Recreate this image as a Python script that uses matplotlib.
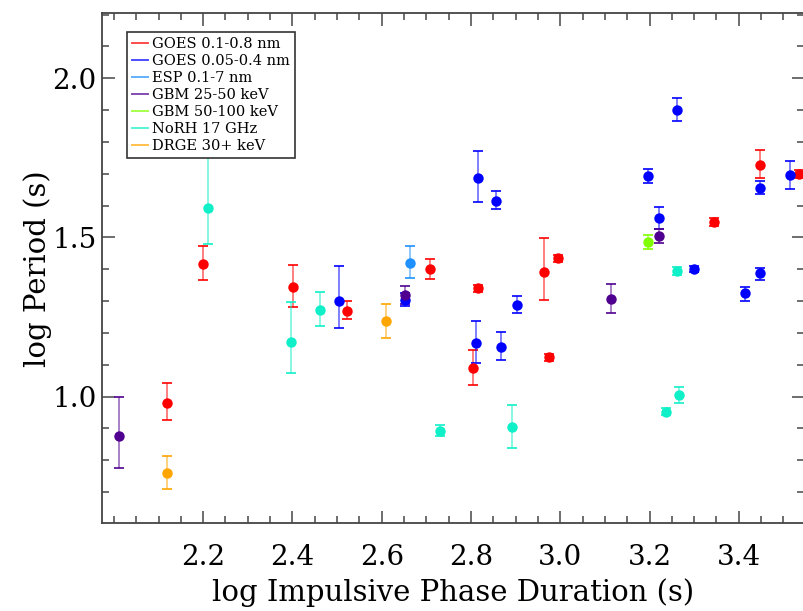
import matplotlib
matplotlib.use("Agg")
import matplotlib.pyplot as plt
from matplotlib.lines import Line2D
from matplotlib.ticker import MultipleLocator

# --- data: x, y, lower and upper error ---
goes_long_x = [2.119, 2.199, 2.402, 2.523, 2.708, 2.816, 2.805, 2.964, 2.995, 2.974, 3.344, 3.447, 3.535]
goes_long_y = [0.979, 1.416, 1.343, 1.270, 1.400, 1.340, 1.089, 1.390, 1.434, 1.123, 1.549, 1.729, 1.700]
goes_long_lo = [0.054, 0.050, 0.061, 0.025, 0.029, 0.012, 0.051, 0.087, 0.012, 0.010, 0.013, 0.042, 0.012]
goes_long_hi = [0.063, 0.057, 0.072, 0.029, 0.032, 0.012, 0.058, 0.109, 0.012, 0.010, 0.013, 0.045, 0.012]

goes_short_x = [2.504, 2.652, 2.812, 2.816, 2.856, 2.867, 2.904, 3.197, 3.221, 3.262, 3.300, 3.415, 3.447, 3.447, 3.514]
goes_short_y = [1.301, 1.305, 1.168, 1.687, 1.614, 1.156, 1.288, 1.693, 1.560, 1.900, 1.400, 1.324, 1.387, 1.656, 1.695]
goes_short_lo = [0.087, 0.020, 0.061, 0.076, 0.025, 0.041, 0.026, 0.023, 0.033, 0.035, 0.010, 0.023, 0.021, 0.021, 0.042]
goes_short_hi = [0.109, 0.020, 0.070, 0.084, 0.032, 0.046, 0.029, 0.023, 0.037, 0.038, 0.010, 0.021, 0.018, 0.021, 0.045]

esp_x = [2.663]
esp_y = [1.420]
esp_lo = [0.048]
esp_hi = [0.054]

gbm_low_x = [2.012, 2.652, 3.113, 3.221]
gbm_low_y = [0.875, 1.319, 1.306, 1.505]
gbm_low_lo = [0.098, 0.029, 0.042, 0.023]
gbm_low_hi = [0.125, 0.028, 0.047, 0.022]

gbm_high_x = [3.197]
gbm_high_y = [1.486]
gbm_high_lo = [0.021]
gbm_high_hi = [0.021]

norh_x = [2.211, 2.396, 2.462, 2.730, 2.891, 3.238, 3.262, 3.266]
norh_y = [1.593, 1.170, 1.272, 0.893, 0.904, 0.953, 1.395, 1.005]
norh_lo = [0.115, 0.096, 0.050, 0.018, 0.064, 0.012, 0.012, 0.025]
norh_hi = [0.250, 0.126, 0.058, 0.018, 0.070, 0.012, 0.012, 0.024]

drge_x = [2.119, 2.609]
drge_y = [0.761, 1.236]
drge_lo = [0.050, 0.052]
drge_hi = [0.052, 0.056]

series = [
    ("GOES 0.1-0.8 nm", "#ff0000", goes_long_x, goes_long_y, goes_long_lo, goes_long_hi),
    ("GOES 0.05-0.4 nm", "#0000ff", goes_short_x, goes_short_y, goes_short_lo, goes_short_hi),
    ("ESP 0.1-7 nm", "#1e90ff", esp_x, esp_y, esp_lo, esp_hi),
    ("GBM 25-50 keV", "#500090", gbm_low_x, gbm_low_y, gbm_low_lo, gbm_low_hi),
    ("GBM 50-100 keV", "#80ff00", gbm_high_x, gbm_high_y, gbm_high_lo, gbm_high_hi),
    ("NoRH 17 GHz", "#10f0c8", norh_x, norh_y, norh_lo, norh_hi),
    ("DRGE 30+ keV", "#ffa500", drge_x, drge_y, drge_lo, drge_hi),
]

plt.rcParams["font.family"] = ["DejaVu Serif"]

fig = plt.figure(figsize=(8.04, 6.11), dpi=100)
ax = fig.add_axes([0.1272, 0.1435, 0.8722, 0.8347])

handles = []
for label, color, x, y, lo, hi in series:
    _, caps, bars = ax.errorbar(x, y, yerr=[lo, hi], fmt="none", ecolor=color,
                                elinewidth=1.4, capsize=3.5, capthick=1.4, zorder=2)
    for b in bars:
        b.set_alpha(0.5)
    for c in caps:
        c.set_alpha(0.85)
    ax.plot(x, y, "o", color=color, markersize=7.5, markeredgewidth=0, zorder=3)
    handles.append(Line2D([0], [0], color=color, lw=1.4, alpha=0.7, label=label))

ax.set_xlim(1.974, 3.545)
ax.set_ylim(0.602, 2.204)
ax.xaxis.set_minor_locator(MultipleLocator(0.05))
ax.yaxis.set_minor_locator(MultipleLocator(0.1))
ax.set_xticks([2.2, 2.4, 2.6, 2.8, 3.0, 3.2, 3.4])
ax.set_xticklabels(["2.2", "2.4", "2.6", "2.8", "3.0", "3.2", "3.4"])
ax.set_yticks([1.0, 1.5, 2.0])
ax.set_yticklabels(["1.0", "1.5", "2.0"])

ax.tick_params(which="both", direction="in", top=True, right=True, color="#555555",
               labelsize=20)
ax.tick_params(axis="x", pad=15)
ax.tick_params(axis="y", pad=4)
ax.tick_params(which="major", length=9, width=1.2)
ax.tick_params(which="minor", length=5, width=1.2)
for sp in ax.spines.values():
    sp.set_color("#444444")
    sp.set_linewidth(1.3)

ax.set_xlabel("log Impulsive Phase Duration (s)", fontsize=21, labelpad=5)
ax.set_ylabel("log Period (s)", fontsize=21, labelpad=0)

leg = ax.legend(handles=handles, loc="upper left", bbox_to_anchor=(0.0348, 0.9627),
                borderaxespad=0, fontsize=10.5, handlelength=1.1, handletextpad=0.3,
                labelspacing=0.2, borderpad=0.35, fancybox=False, framealpha=1,
                edgecolor="#333333")
leg.get_frame().set_linewidth(1.2)
leg.set_zorder(10)

fig.savefig("out.png", dpi=100)
